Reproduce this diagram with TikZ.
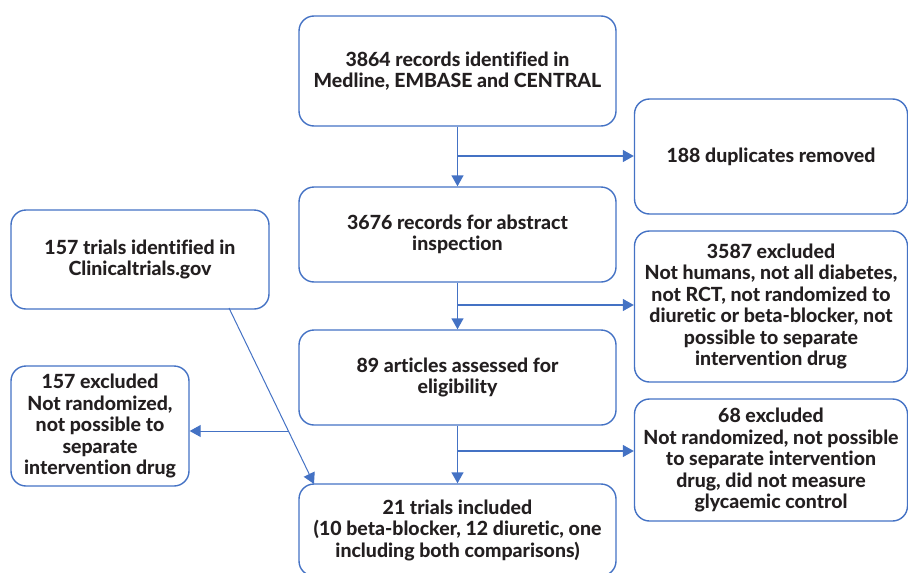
\documentclass[tikz,border=0pt]{standalone}
\usepackage{fontspec}
\setmainfont{Lato}[Ligatures={NoCommon}, BoldFont={Lato Heavy}]
\usetikzlibrary{arrows.meta,calc}
\definecolor{lineblue}{HTML}{4472C4}
\definecolor{txt}{HTML}{231F20}
\tikzset{
  box/.style={draw=lineblue, line width=1.4pt, rounded corners=15pt, align=center,
    font=\fontsize{19.5}{21.5}\selectfont\bfseries, text=txt, inner sep=0pt},
  conn/.style={draw=lineblue, line width=1.4pt},
  arr/.style={conn, -{Triangle[length=11pt,width=12pt]}},
}
\begin{document}
\begin{tikzpicture}[x=1pt,y=-1pt]
\useasboundingbox (0,0) rectangle (908,573);
\clip (0,0) rectangle (908,573);
\node[box, minimum width=317pt, minimum height=110pt] (A) at (457.5,71) {3864 records identified in\\Medline, EMBASE and CENTRAL};
\node[box, minimum width=273pt, minimum height=115pt] (B) at (771,156.5) {188 duplicates removed};
\node[box, minimum width=317pt, minimum height=95pt] (C) at (457.5,234.5) {3676 records for abstract\\inspection};
\node[box, minimum width=258pt, minimum height=99pt] (D) at (140,259.5) {157 trials identified in\\Clinicaltrials.gov};
\node[box, minimum width=273pt, minimum height=151pt] (E) at (771,306.5) {3587 excluded\\Not humans, not all diabetes,\\not RCT, not randomized to\\diuretic or beta-blocker, not\\possible to separate\\intervention drug};
\node[box, minimum width=317pt, minimum height=95pt] (F) at (457.5,377.5) {89 articles assessed for\\eligibility};
\node[box, minimum width=178pt, minimum height=120pt] (G) at (100,426) {157 excluded\\Not randomized,\\not possible to\\separate\\intervention drug};
\node[box, minimum width=273pt, minimum height=122pt] (H) at (771,460) {68 excluded\\Not randomized, not possible\\to separate intervention\\drug, did not measure\\glycaemic control};
\node[box, minimum width=317pt, minimum height=92pt] (I) at (457.5,530) {21 trials included\\(10 beta-blocker, 12 diuretic, one\\including both comparisons)};
% main flow
\draw[arr] (A.south) -- (C.north);
\coordinate (b1) at (457.5,156);
\draw[arr] (b1) -- (b1 -| B.west);
\draw[arr] (C.south) -- (F.north);
\coordinate (b2) at (457.5,305);
\draw[arr] (b2) -- (b2 -| E.west);
\draw[arr] (F.south) -- (I.north);
\coordinate (b3) at (457.5,451);
\draw[arr] (b3) -- (b3 -| H.west);
% clinicaltrials branch
\coordinate (d1) at (229,308);
\coordinate (d2) at (314,484);
\draw[draw=lineblue, line width=1pt, -{Triangle[length=11pt,width=12pt]}] (d1) -- (d2);
\coordinate (g1) at ($(d1)!0.6989!(d2)$);
\draw[arr, line width=1pt] (g1) -- (g1 -| G.east);
\end{tikzpicture}
\end{document}
